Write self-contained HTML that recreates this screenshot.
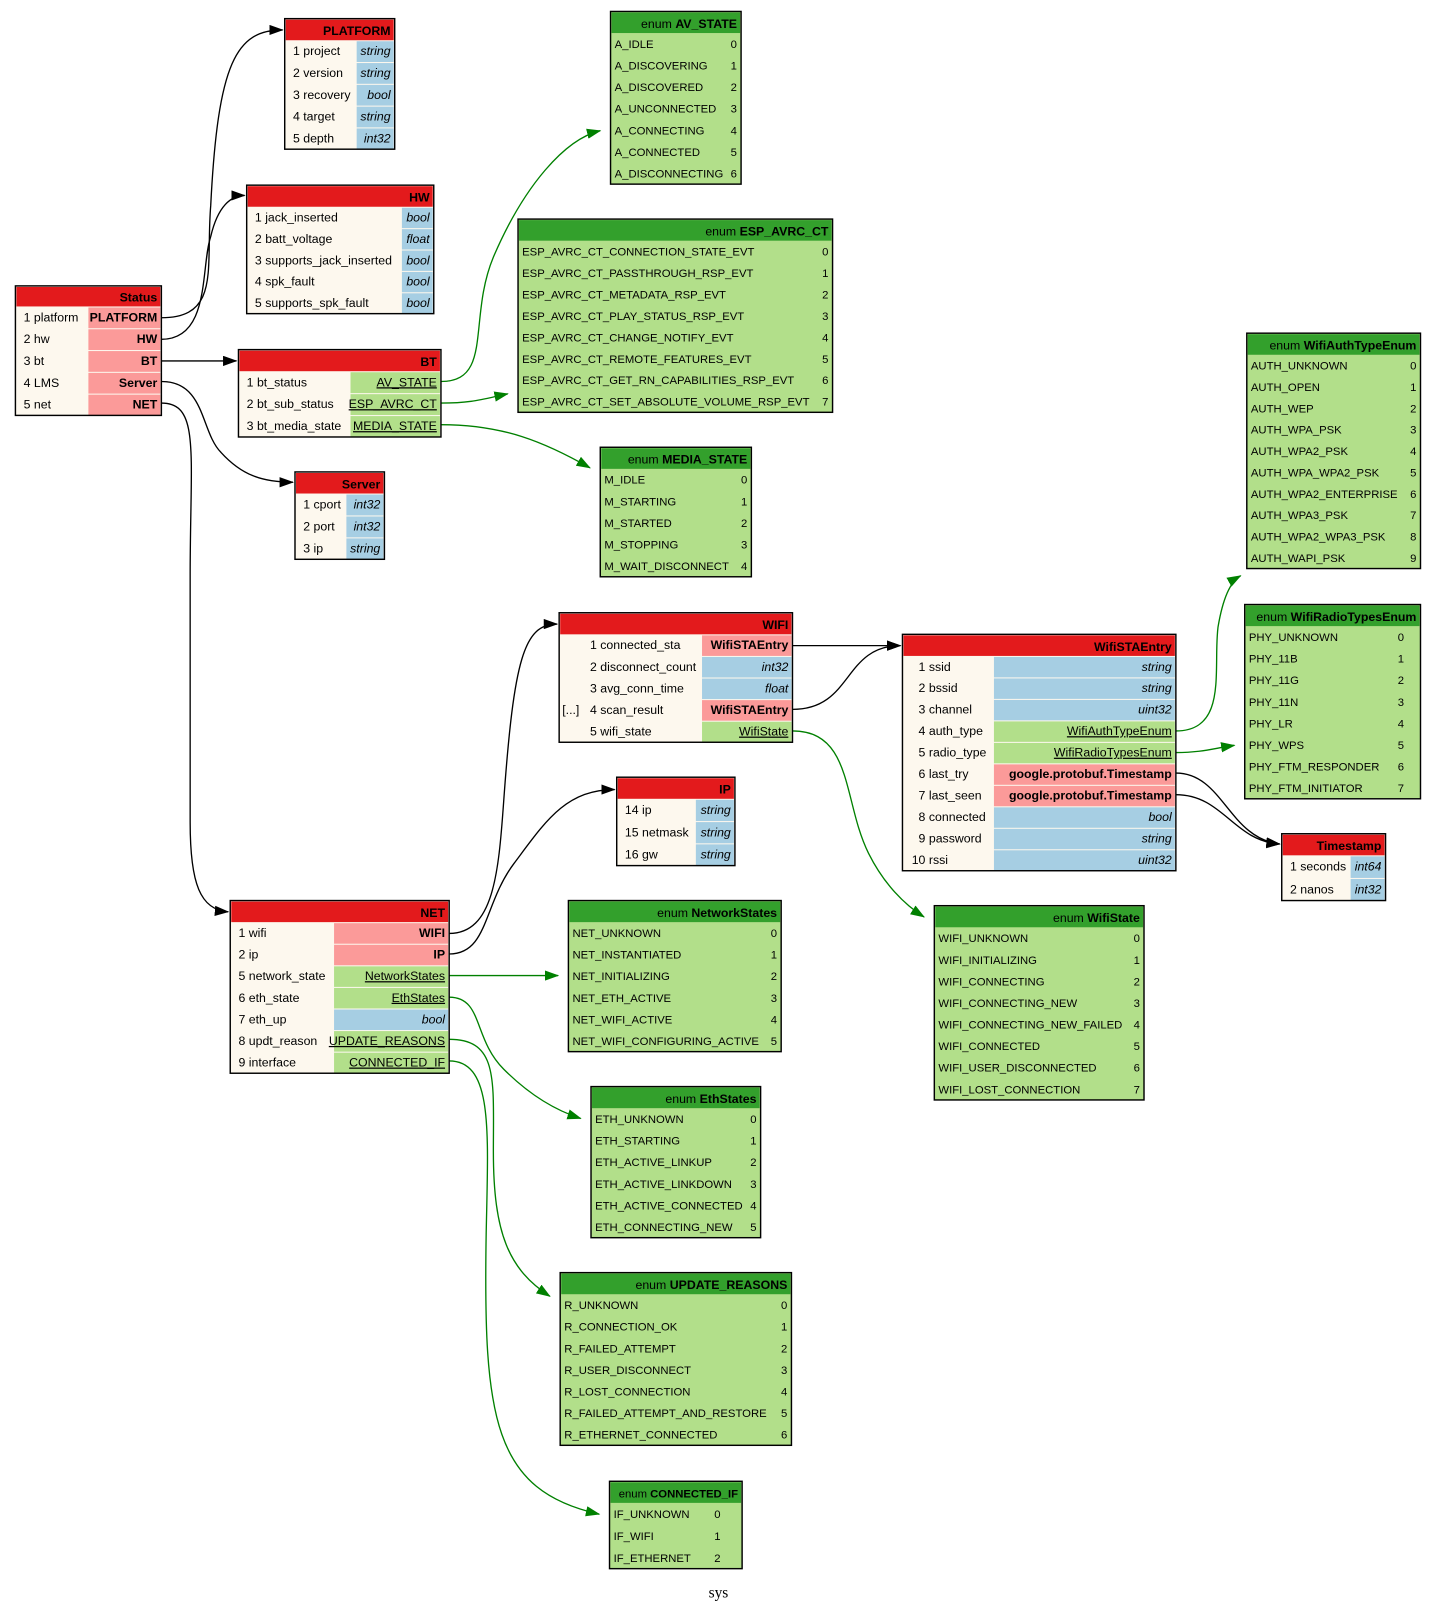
<!DOCTYPE html>
<html><head><meta charset="utf-8"><style>
html,body{margin:0;padding:0;background:#fff;}
svg{display:block;}
text{font-family:"Liberation Sans",sans-serif;font-size:12px;fill:#000;}
</style></head><body>
<svg id="g" xmlns="http://www.w3.org/2000/svg" width="1439" height="1613" viewBox="0 0 1400 1569">
<defs>
<marker id="ab" markerWidth="14" markerHeight="10" refX="13" refY="5" orient="auto" markerUnits="userSpaceOnUse"><path d="M0,0 L14,5 L0,10z" fill="#000"/></marker>
<marker id="ag" markerWidth="14" markerHeight="10" refX="13" refY="5" orient="auto" markerUnits="userSpaceOnUse"><path d="M0,0 L14,5 L0,10z" fill="#008000"/></marker>
</defs>
<g id="edges" fill="none" stroke-width="1.3">
<path d="M157,309 C215,309 200,260 205,200 C212,60 230,29 275,29" stroke="#000" marker-end="url(#ab)"/>
<path d="M157,330 C205,330 195,260 205,230 C212,200 225,190 238,190" stroke="#000" marker-end="url(#ab)"/>
<path d="M157,351 L230,351" stroke="#000" marker-end="url(#ab)"/>
<path d="M157,371 C200,371 195,420 215,440 C235,462 255,469 285,469" stroke="#000" marker-end="url(#ab)"/>
<path d="M157,392 C195,392 185,440 185,560 L185,800 C185,860 195,885 222,887" stroke="#000" marker-end="url(#ab)"/>
<path d="M437,908 C480,908 485,850 490,780 C500,640 510,607 542,607" stroke="#000" marker-end="url(#ab)"/>
<path d="M437,928 C475,928 470,880 500,840 C530,800 550,768 598,768" stroke="#000" marker-end="url(#ab)"/>
<path d="M771,628 L876,628" stroke="#000" marker-end="url(#ab)"/>
<path d="M771,690 C830,690 820,628 876,628" stroke="#000" marker-end="url(#ab)"/>
<path d="M1144,752 C1190,752 1195,815 1245,821" stroke="#000" marker-end="url(#ab)"/>
<path d="M1144,773 C1190,773 1200,818 1245,821" stroke="#000" marker-end="url(#ab)"/>
<path d="M429,371 C480,371 455,310 480,250 C510,180 550,135 584,127" stroke="#008000" marker-end="url(#ag)"/>
<path d="M429,392 C460,392 470,388 494,383" stroke="#008000" marker-end="url(#ag)"/>
<path d="M429,413 C490,413 530,430 574,455" stroke="#008000" marker-end="url(#ag)"/>
<path d="M1144,711 C1195,711 1180,650 1185,610 C1190,580 1198,565 1207,560" stroke="#008000" marker-end="url(#ag)"/>
<path d="M1144,732 C1170,732 1180,728 1201,725" stroke="#008000" marker-end="url(#ag)"/>
<path d="M771,711 C830,711 820,780 845,830 C860,860 880,880 899,892" stroke="#008000" marker-end="url(#ag)"/>
<path d="M437,949 L543,949" stroke="#008000" marker-end="url(#ag)"/>
<path d="M437,970 C470,970 460,1010 490,1040 C515,1065 540,1080 565,1088" stroke="#008000" marker-end="url(#ag)"/>
<path d="M437,1011 C485,1011 480,1050 480,1120 C480,1200 495,1235 535,1261" stroke="#008000" marker-end="url(#ag)"/>
<path d="M437,1032 C480,1032 475,1100 473,1200 C470,1380 480,1450 583,1473" stroke="#008000" marker-end="url(#ag)"/>
</g>
<text x="699" y="1554" text-anchor="middle" style="font-family:'Liberation Serif',serif;font-size:15px">sys</text>
</svg>
<script>
var s='';
function R(x,y,w,h,f,o){s+='<rect x="'+x+'" y="'+y+'" width="'+w+'" height="'+h+'" fill="'+f+'" '+(o||'')+'/>';}
function T(x,y,t,o){s+='<text x="'+x+'" y="'+y+'" '+(o||'')+'>'+t+'</text>';}
function msg(x1,y1,x2,y2,hb,tc,title,lx,rows){
 R(x1,y1,x2-x1,y2-y1,'#fdf8ee');
 R(x1+1,y1+1,x2-x1-2,hb-y1-1,'#e31a1c');
 T(x2-4,hb-5,title,'text-anchor="end" font-weight="bold"');
 var p=(y2-hb)/rows.length;
 rows.forEach(function(r,i){
  var cy=hb+p*i,k=r[2],c=k=='m'?'#fb9a99':k=='e'?'#b2df8a':'#a6cee3';
  R(tc,cy+1,x2-tc-1,p-1,c);
  var by=cy+p/2+4;
  if(r[3]) T(x1+3,by,r[3]);
  T(lx,by,r[0]);
  var o='text-anchor="end"';
  if(k=='m') o+=' font-weight="bold"';
  if(k=='e') o+=' text-decoration="underline"';
  if(k=='s') o+=' font-style="italic"';
  T(x2-4,by,r[1],o);
 });
 R(x1,y1,x2-x1,y2-y1,'none','stroke="#000" stroke-width="1.4"');
}
function en(x1,y1,x2,y2,hb,name,rows,vx,hs){
 R(x1,y1,x2-x1,y2-y1,'#b2df8a');
 R(x1+1,y1+1,x2-x1-2,hb-y1-1,'#33a02c');
 T(x2-4,hb-5,'enum <tspan font-weight="bold">'+name+'</tspan>','text-anchor="end"'+(hs?' style="font-size:'+hs+'px"':''));
 var p=(y2-hb)/rows.length;
 rows.forEach(function(r,i){
  var by=hb+p*i+p/2+4;
  T(x1+4,by,r,'style="font-size:11px"');
  T(vx||x2-4,by,i,'text-anchor="end" style="font-size:11px"');
 });
 R(x1,y1,x2-x1,y2-y1,'none','stroke="#000" stroke-width="1.4"');
}
msg(277,18,384,145,39,347,'PLATFORM',285,[['1 project','string','s'],['2 version','string','s'],['3 recovery','bool','s'],['4 target','string','s'],['5 depth','int32','s']]);
msg(240,180,422,305,201,391,'HW',248,[['1 jack_inserted','bool','s'],['2 batt_voltage','float','s'],['3 supports_jack_inserted','bool','s'],['4 spk_fault','bool','s'],['5 supports_spk_fault','bool','s']]);
msg(15,278,157,404,298,86,'Status',23,[['1 platform','PLATFORM','m'],['2 hw','HW','m'],['3 bt','BT','m'],['4 LMS','Server','m'],['5 net','NET','m']]);
msg(232,340,429,425,361,341,'BT',240,[['1 bt_status','AV_STATE','e'],['2 bt_sub_status','ESP_AVRC_CT','e'],['3 bt_media_state','MEDIA_STATE','e']]);
msg(287,459,374,544,480,337,'Server',295,[['1 cport','int32','s'],['2 port','int32','s'],['3 ip','string','s']]);
msg(544,596,771,722,617,683,'WIFI',574,[['1 connected_sta','WifiSTAEntry','m'],['2 disconnect_count','int32','s'],['3 avg_conn_time','float','s'],['4 scan_result','WifiSTAEntry','m','[...]'],['5 wifi_state','WifiState','e']]);
msg(878,617,1144,847,638,967,'WifiSTAEntry',887,[['&#160;&#160;1 ssid','string','s'],['&#160;&#160;2 bssid','string','s'],['&#160;&#160;3 channel','uint32','s'],['&#160;&#160;4 auth_type','WifiAuthTypeEnum','e'],['&#160;&#160;5 radio_type','WifiRadioTypesEnum','e'],['&#160;&#160;6 last_try','google.protobuf.Timestamp','m'],['&#160;&#160;7 last_seen','google.protobuf.Timestamp','m'],['&#160;&#160;8 connected','bool','s'],['&#160;&#160;9 password','string','s'],['10 rssi','uint32','s']]);
msg(600,756,715,842,777,677,'IP',608,[['14 ip','string','s'],['15 netmask','string','s'],['16 gw','string','s']]);
msg(1247,811,1348,876,832,1314,'Timestamp',1255,[['1 seconds','int64','s'],['2 nanos','int32','s']]);
msg(224,876,437,1044,897,325,'NET',232,[['1 wifi','WIFI','m'],['2 ip','IP','m'],['5 network_state','NetworkStates','e'],['6 eth_state','EthStates','e'],['7 eth_up','bool','s'],['8 updt_reason','UPDATE_REASONS','e'],['9 interface','CONNECTED_IF','e']]);
en(594,11,721,179,32,'AV_STATE',['A_IDLE','A_DISCOVERING','A_DISCOVERED','A_UNCONNECTED','A_CONNECTING','A_CONNECTED','A_DISCONNECTING']);
en(504,213,810,401,234,'ESP_AVRC_CT',['ESP_AVRC_CT_CONNECTION_STATE_EVT','ESP_AVRC_CT_PASSTHROUGH_RSP_EVT','ESP_AVRC_CT_METADATA_RSP_EVT','ESP_AVRC_CT_PLAY_STATUS_RSP_EVT','ESP_AVRC_CT_CHANGE_NOTIFY_EVT','ESP_AVRC_CT_REMOTE_FEATURES_EVT','ESP_AVRC_CT_GET_RN_CAPABILITIES_RSP_EVT','ESP_AVRC_CT_SET_ABSOLUTE_VOLUME_RSP_EVT']);
en(584,435,731,561,456,'MEDIA_STATE',['M_IDLE','M_STARTING','M_STARTED','M_STOPPING','M_WAIT_DISCONNECT']);
en(1213,324,1382,553,345,'WifiAuthTypeEnum',['AUTH_UNKNOWN','AUTH_OPEN','AUTH_WEP','AUTH_WPA_PSK','AUTH_WPA2_PSK','AUTH_WPA_WPA2_PSK','AUTH_WPA2_ENTERPRISE','AUTH_WPA3_PSK','AUTH_WPA2_WPA3_PSK','AUTH_WAPI_PSK']);
en(1211,588,1382,777,609,'WifiRadioTypesEnum',['PHY_UNKNOWN','PHY_11B','PHY_11G','PHY_11N','PHY_LR','PHY_WPS','PHY_FTM_RESPONDER','PHY_FTM_INITIATOR'],1366);
en(553,876,760,1023,897,'NetworkStates',['NET_UNKNOWN','NET_INSTANTIATED','NET_INITIALIZING','NET_ETH_ACTIVE','NET_WIFI_ACTIVE','NET_WIFI_CONFIGURING_ACTIVE']);
en(909,881,1113,1070,902,'WifiState',['WIFI_UNKNOWN','WIFI_INITIALIZING','WIFI_CONNECTING','WIFI_CONNECTING_NEW','WIFI_CONNECTING_NEW_FAILED','WIFI_CONNECTED','WIFI_USER_DISCONNECTED','WIFI_LOST_CONNECTION']);
en(575,1057,740,1204,1078,'EthStates',['ETH_UNKNOWN','ETH_STARTING','ETH_ACTIVE_LINKUP','ETH_ACTIVE_LINKDOWN','ETH_ACTIVE_CONNECTED','ETH_CONNECTING_NEW']);
en(545,1238,770,1406,1259,'UPDATE_REASONS',['R_UNKNOWN','R_CONNECTION_OK','R_FAILED_ATTEMPT','R_USER_DISCONNECT','R_LOST_CONNECTION','R_FAILED_ATTEMPT_AND_RESTORE','R_ETHERNET_CONNECTED']);
en(593,1441,722,1526,1462,'CONNECTED_IF',['IF_UNKNOWN','IF_WIFI','IF_ETHERNET'],701,11);
document.getElementById('g').insertAdjacentHTML('beforeend',s);
</script>
</body></html>
